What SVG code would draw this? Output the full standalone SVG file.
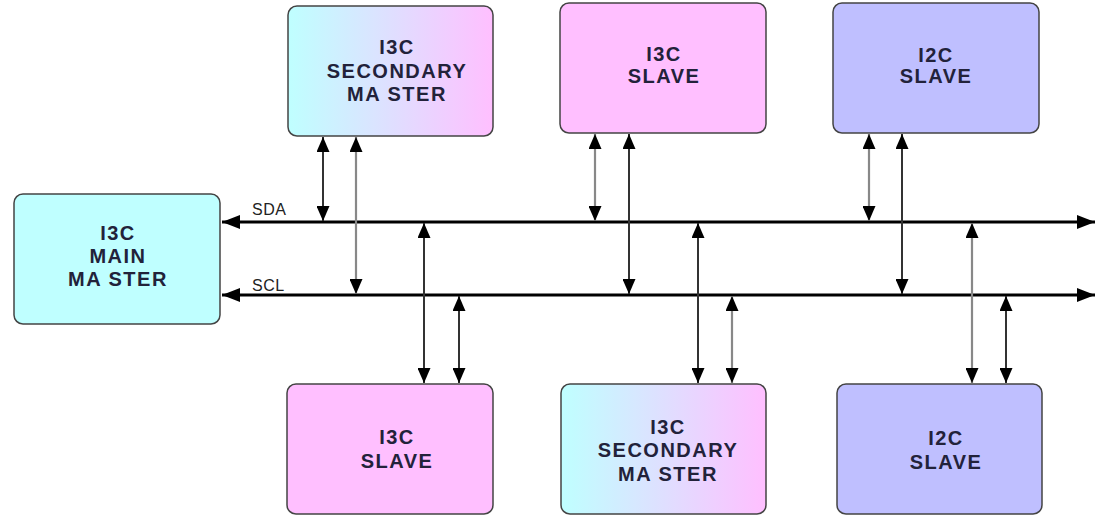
<svg xmlns="http://www.w3.org/2000/svg" width="1095" height="519" viewBox="0 0 1095 519">
<style>
.box{stroke:#444;stroke-width:1.5}
.t{font-family:"Liberation Sans",Arial,sans-serif;font-weight:bold;font-size:20px;letter-spacing:1.5px;fill:#22223a;text-anchor:middle}
.lbl{font-family:"Liberation Sans",Arial,sans-serif;font-size:16px;letter-spacing:0.5px;fill:#222}
.bus{stroke:#000;stroke-width:3;fill:none}
.v{stroke:#333;stroke-width:2;fill:none}
.vg{stroke:#888;stroke-width:2.2;fill:none}
</style>
<defs>
<linearGradient id="gcp" x1="0" y1="0" x2="1" y2="0">
<stop offset="0" stop-color="#bfffff"/>
<stop offset="1" stop-color="#ffbfff"/>
</linearGradient>
<marker id="ah" viewBox="0 0 15 13" refX="15" refY="6.5" markerWidth="15" markerHeight="13" markerUnits="userSpaceOnUse" orient="auto-start-reverse">
<path d="M0,0 L15,6.5 L0,13 Z" fill="#000"/>
</marker>
<marker id="bh" viewBox="0 0 18 14" refX="18" refY="7" markerWidth="18" markerHeight="14" markerUnits="userSpaceOnUse" orient="auto-start-reverse">
<path d="M0,0 L18,7 L0,14 Z" fill="#000"/>
</marker>
</defs>

<g id="connectors">
<line class="bus" x1="222" y1="222" x2="1095" y2="222" marker-start="url(#bh)" marker-end="url(#bh)"/>
<line class="bus" x1="222" y1="295" x2="1095" y2="295" marker-start="url(#bh)" marker-end="url(#bh)"/>
<text class="lbl" x="252" y="215">SDA</text>
<text class="lbl" x="252" y="291">SCL</text>
<line class="v" x1="323" y1="137" x2="323" y2="221" marker-start="url(#ah)" marker-end="url(#ah)"/>
<line class="vg" x1="356" y1="137" x2="356" y2="294" marker-start="url(#ah)" marker-end="url(#ah)"/>
<line class="vg" x1="595" y1="134" x2="595" y2="221" marker-start="url(#ah)" marker-end="url(#ah)"/>
<line class="v" x1="629" y1="134" x2="629" y2="294" marker-start="url(#ah)" marker-end="url(#ah)"/>
<line class="vg" x1="869" y1="134" x2="869" y2="221" marker-start="url(#ah)" marker-end="url(#ah)"/>
<line class="v" x1="902" y1="134" x2="902" y2="294" marker-start="url(#ah)" marker-end="url(#ah)"/>
<line class="v" x1="424" y1="223" x2="424" y2="383" marker-start="url(#ah)" marker-end="url(#ah)"/>
<line class="v" x1="459" y1="296" x2="459" y2="383" marker-start="url(#ah)" marker-end="url(#ah)"/>
<line class="v" x1="698" y1="223" x2="698" y2="383" marker-start="url(#ah)" marker-end="url(#ah)"/>
<line class="vg" x1="732" y1="296" x2="732" y2="383" marker-start="url(#ah)" marker-end="url(#ah)"/>
<line class="vg" x1="972" y1="223" x2="972" y2="383" marker-start="url(#ah)" marker-end="url(#ah)"/>
<line class="v" x1="1006" y1="296" x2="1006" y2="383" marker-start="url(#ah)" marker-end="url(#ah)"/>
</g>

<g id="main-master">
<rect class="box" x="14" y="194" width="206" height="130" rx="9" fill="#bfffff"/>
<text class="t" x="118" y="240">I3C</text>
<text class="t" x="118" y="263">MAIN</text>
<text class="t" x="118" y="286">MA STER</text>
</g>

<g id="top-secondary-master">
<rect class="box" x="288" y="6" width="205" height="130" rx="9" fill="url(#gcp)"/>
<text class="t" x="397" y="54">I3C</text>
<text class="t" x="397" y="78">SECONDARY</text>
<text class="t" x="397" y="101">MA STER</text>
</g>

<g id="top-i3c-slave">
<rect class="box" x="560" y="3" width="206" height="130" rx="9" fill="#ffbfff"/>
<text class="t" x="664" y="61">I3C</text>
<text class="t" x="664" y="83">SLAVE</text>
</g>

<g id="top-i2c-slave">
<rect class="box" x="833" y="3" width="206" height="130" rx="9" fill="#bfbfff"/>
<text class="t" x="936" y="62">I2C</text>
<text class="t" x="936" y="83">SLAVE</text>
</g>

<g id="bottom-i3c-slave">
<rect class="box" x="287" y="384" width="206" height="130" rx="9" fill="#ffbfff"/>
<text class="t" x="397" y="444">I3C</text>
<text class="t" x="397" y="468">SLAVE</text>
</g>

<g id="bottom-secondary-master">
<rect class="box" x="561" y="384" width="205" height="130" rx="9" fill="url(#gcp)"/>
<text class="t" x="668" y="434">I3C</text>
<text class="t" x="668" y="457">SECONDARY</text>
<text class="t" x="668" y="481">MA STER</text>
</g>

<g id="bottom-i2c-slave">
<rect class="box" x="837" y="384" width="205" height="130" rx="9" fill="#bfbfff"/>
<text class="t" x="946" y="445">I2C</text>
<text class="t" x="946" y="469">SLAVE</text>
</g>
</svg>
